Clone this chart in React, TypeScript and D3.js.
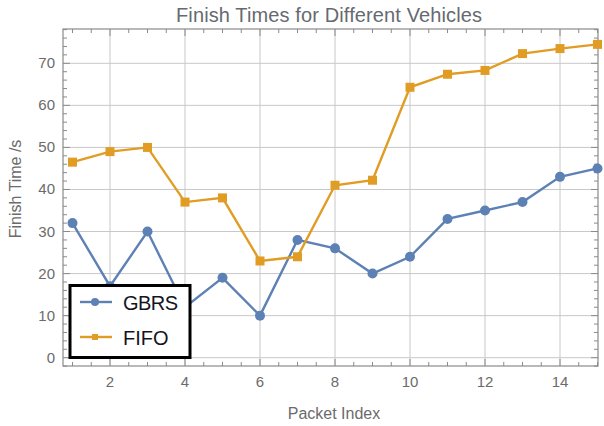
import React, { useEffect, useRef } from 'react';
import * as d3 from 'd3';

const packets = [1, 2, 3, 4, 5, 6, 7, 8, 9, 10, 11, 12, 13, 14, 15];
const gbrs = [32, 17, 30, 12, 19, 10, 28, 26, 20, 24, 33, 35, 37, 43, 45];
const fifo = [46.5, 49, 50, 37, 38, 23, 24, 41, 42.2, 64.3, 67.4, 68.3, 72.3, 73.5, 74.5];
const xTicks = [2, 4, 6, 8, 10, 12, 14];
const yTicks = [0, 10, 20, 30, 40, 50, 60, 70];
const seriesNames = ['GBRS', 'FIFO'];

const App = () => {
    const svgRef = useRef<SVGSVGElement>(null);

    useEffect(() => {
        const svg = d3.select(svgRef.current);
        svg.selectAll('*').remove();

        const width = 604;
        const height = 426;
        const left = 63, right = 598, top = 29, bottom = 366;
        const font = 'Liberation Sans, Arial, sans-serif';
        const labelColor = '#6b6b6b';

        const x = d3.scaleLinear().domain([1, 15]).range([72.5, 597.5]);
        const y = d3.scaleLinear().domain([0, 70]).range([357.7, 63.3]);

        svg.attr('width', width).attr('height', height);

        // background
        svg.append('rect').attr('width', width).attr('height', height).attr('fill', '#fff');

        // grid
        const grid = svg.append('g').attr('stroke', '#c8c8c8').attr('stroke-width', 1);
        xTicks.forEach(t => {
            grid.append('line').attr('x1', x(t)).attr('x2', x(t)).attr('y1', top).attr('y2', bottom);
        });
        yTicks.forEach(t => {
            grid.append('line').attr('x1', left).attr('x2', right).attr('y1', y(t)).attr('y2', y(t));
        });

        // frame
        svg.append('rect')
            .attr('x', left).attr('y', top)
            .attr('width', right - left).attr('height', bottom - top)
            .attr('fill', 'none').attr('stroke', '#8a8a8a').attr('stroke-width', 1.2);

        // ticks on all four sides
        const ticks = svg.append('g').attr('stroke', '#8a8a8a').attr('stroke-width', 1);
        const xMinor = d3.range(1, 15.01, 0.5);
        xMinor.forEach(t => {
            const major = t % 2 === 0;
            const len = major ? 7 : 4;
            ticks.append('line').attr('x1', x(t)).attr('x2', x(t)).attr('y1', bottom).attr('y2', bottom - len);
            ticks.append('line').attr('x1', x(t)).attr('x2', x(t)).attr('y1', top).attr('y2', top + len);
        });
        const yMinor = d3.range(-2, 78.01, 2);
        yMinor.forEach(t => {
            const major = t % 10 === 0;
            const len = major ? 7 : 4;
            ticks.append('line').attr('x1', left).attr('x2', left + len).attr('y1', y(t)).attr('y2', y(t));
            ticks.append('line').attr('x1', right).attr('x2', right - len).attr('y1', y(t)).attr('y2', y(t));
        });

        // tick labels
        svg.append('g').selectAll('text').data(xTicks).enter().append('text')
            .attr('x', d => x(d)).attr('y', bottom + 21)
            .attr('text-anchor', 'middle')
            .style('font-family', font).style('font-size', '15px').style('fill', labelColor)
            .text(d => d);
        svg.append('g').selectAll('text').data(yTicks).enter().append('text')
            .attr('x', left - 8).attr('y', d => y(d) + 5)
            .attr('text-anchor', 'end')
            .style('font-family', font).style('font-size', '15px').style('fill', labelColor)
            .text(d => d);

        // title and axis labels
        svg.append('text')
            .attr('x', 176).attr('y', 22)
            .attr('textLength', 306)
            .style('font-family', font).style('font-size', '20px').style('fill', '#666a70')
            .text('Finish Times for Different Vehicles');
        svg.append('text')
            .attr('x', 334).attr('y', 419)
            .attr('text-anchor', 'middle')
            .style('font-family', font).style('font-size', '16px').style('fill', labelColor)
            .text('Packet Index');
        svg.append('text')
            .attr('transform', 'translate(21,189) rotate(-90)')
            .attr('text-anchor', 'middle')
            .style('font-family', font).style('font-size', '16px').style('fill', labelColor)
            .text('Finish Time /s');

        const colors = ['#5e81b5', '#e19c24'];
        const line = d3.line<number>().x((d, i) => x(packets[i])).y(d => y(d));

        const plot = svg.append('g');
        [gbrs, fifo].forEach((vals, k) => {
            plot.append('path')
                .attr('d', line(vals))
                .attr('fill', 'none').attr('stroke', colors[k]).attr('stroke-width', 2.4);
        });
        // markers
        plot.selectAll('.g-pt').data(gbrs).enter().append('circle')
            .attr('cx', (d, i) => x(packets[i])).attr('cy', d => y(d))
            .attr('r', 5).attr('fill', colors[0]);
        plot.selectAll('.f-pt').data(fifo).enter().append('rect')
            .attr('x', (d, i) => x(packets[i]) - 4.5).attr('y', d => y(d) - 4.5)
            .attr('width', 9).attr('height', 9).attr('fill', colors[1]);

        // legend
        const lg = svg.append('g');
        lg.append('rect')
            .attr('x', 70).attr('y', 285.5).attr('width', 120).attr('height', 72)
            .attr('fill', '#fff').attr('stroke', '#000').attr('stroke-width', 3);
        seriesNames.forEach((name, k) => {
            const ly = 302 + k * 35;
            lg.append('line').attr('x1', 80).attr('x2', 112).attr('y1', ly).attr('y2', ly)
                .attr('stroke', colors[k]).attr('stroke-width', 2.4);
            if (k === 0) {
                lg.append('circle').attr('cx', 95).attr('cy', ly).attr('r', 4).attr('fill', colors[k]);
            } else {
                lg.append('rect').attr('x', 92).attr('y', ly - 3).attr('width', 6).attr('height', 6).attr('fill', colors[k]);
            }
            lg.append('text')
                .attr('x', 123).attr('y', ly + 8)
                .attr('textLength', k === 0 ? 55 : null)
                .style('font-family', font).style('font-size', '20px').style('fill', '#14141e')
                .text(name);
        });
    }, []);

    return <svg ref={svgRef} style={{ position: 'absolute', left: 0, top: 0 }}></svg>;
};

export default App;
